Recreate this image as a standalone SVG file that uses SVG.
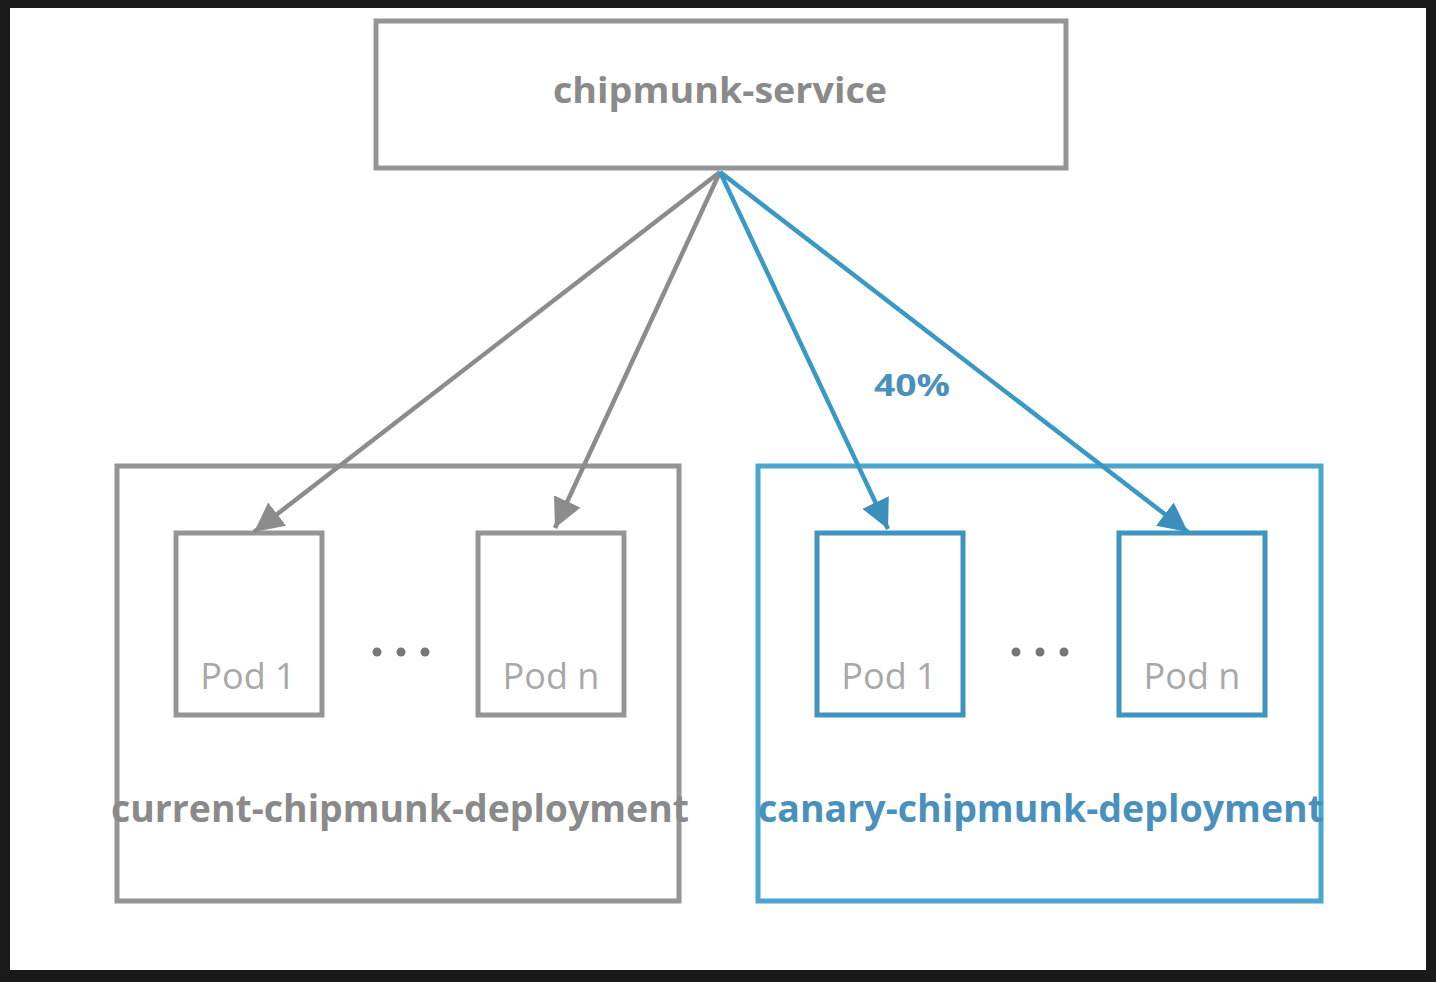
<svg xmlns="http://www.w3.org/2000/svg" width="1436" height="982" viewBox="0 0 1436 982">
<style>
.box{fill:#ffffff;stroke:#959595;stroke-width:5}
.cbox{fill:#ffffff;stroke:#4aa6cf;stroke-width:5}
.cpod{fill:#ffffff;stroke:#3f93bf;stroke-width:5}
.title{font-family:"Open Sans","Liberation Sans",sans-serif;font-weight:700;fill:#8a8a8a}
.ctitle{font-family:"Open Sans","Liberation Sans",sans-serif;font-weight:700;fill:#4a90bd}
.pod{font-family:"Open Sans","Liberation Sans",sans-serif;font-weight:400;font-size:36px;fill:#a8a8a8;text-anchor:middle}
.gl{stroke:#8c8c8c;stroke-width:4.5;fill:none}
.bl{stroke:#3a98c4;stroke-width:4.5;fill:none}
.dot{fill:#777}
</style>
<defs>
<marker id="ag" viewBox="0 0 10 10" refX="10" refY="5" markerWidth="6.5" markerHeight="6.5" markerUnits="strokeWidth" orient="auto">
<path d="M0,0 L10,5 L0,10 z" fill="#8c8c8c"/>
</marker>
<marker id="ab" viewBox="0 0 10 10" refX="10" refY="5" markerWidth="6.5" markerHeight="6.5" markerUnits="strokeWidth" orient="auto">
<path d="M0,0 L10,5 L0,10 z" fill="#3a8fbd"/>
</marker>
</defs>
<rect x="0" y="0" width="1436" height="982" fill="#1a1a1a"/>
<rect x="10" y="8" width="1416" height="962" fill="#ffffff"/>

<g id="service">
<rect class="box" x="376" y="21" width="690" height="147"/>
<text class="title" x="720" y="103" font-size="36" text-anchor="middle" textLength="334" lengthAdjust="spacingAndGlyphs">chipmunk-service</text>
</g>

<g id="current-deployment">
<rect class="box" x="117" y="466" width="562" height="435"/>
<text class="title" x="400" y="822" font-size="38" text-anchor="middle" textLength="578" lengthAdjust="spacingAndGlyphs">current-chipmunk-deployment</text>
</g>
<g id="current-pod1">
<rect class="box" x="176" y="533" width="146" height="182"/>
<text class="pod" x="248" y="689">Pod 1</text>
</g>
<g id="current-dots">
<circle class="dot" cx="377" cy="652" r="4.5"/>
<circle class="dot" cx="401" cy="652" r="4.5"/>
<circle class="dot" cx="425" cy="652" r="4.5"/>
</g>
<g id="current-podn">
<rect class="box" x="478" y="533" width="146" height="182"/>
<text class="pod" x="551" y="689">Pod n</text>
</g>

<g id="canary-deployment">
<rect class="cbox" x="758" y="466" width="563" height="435"/>
<text class="ctitle" x="1041" y="822" font-size="38" text-anchor="middle" textLength="566" lengthAdjust="spacingAndGlyphs">canary-chipmunk-deployment</text>
</g>
<g id="canary-pod1">
<rect class="cpod" x="817" y="533" width="146" height="182"/>
<text class="pod" x="889" y="689">Pod 1</text>
</g>
<g id="canary-dots">
<circle class="dot" cx="1016" cy="652" r="4.5"/>
<circle class="dot" cx="1040" cy="652" r="4.5"/>
<circle class="dot" cx="1064" cy="652" r="4.5"/>
</g>
<g id="canary-podn">
<rect class="cpod" x="1119" y="533" width="146" height="182"/>
<text class="pod" x="1192" y="689">Pod n</text>
</g>

<g id="connectors">
<line class="gl" x1="720" y1="172" x2="254" y2="532" marker-end="url(#ag)"/>
<line class="gl" x1="720" y1="172" x2="555" y2="528" marker-end="url(#ag)"/>
<line class="bl" x1="720" y1="172" x2="888" y2="529" marker-end="url(#ab)"/>
<line class="bl" x1="720" y1="172" x2="1188" y2="532" marker-end="url(#ab)"/>
<text class="ctitle" x="912" y="396" font-size="30" text-anchor="middle" textLength="76" lengthAdjust="spacingAndGlyphs">40%</text>
</g>
</svg>
